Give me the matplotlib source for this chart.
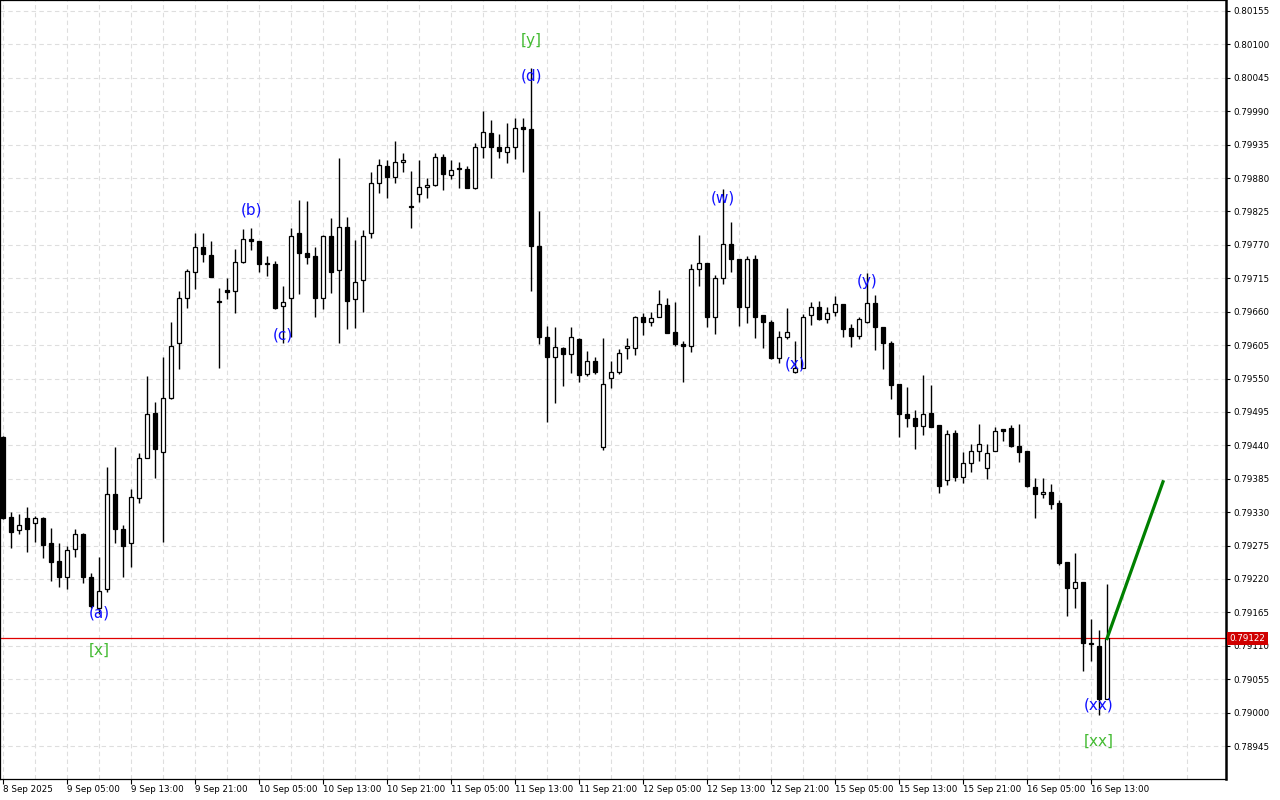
import matplotlib.pyplot as plt
import numpy as np

# hourly candles, 8 Sep 21:00 .. 16 Sep
OPEN = [0.79454, 0.79322, 0.79301, 0.79320, 0.79312, 0.79320, 0.79279, 0.79250, 0.79223, 0.79269,
        0.79294, 0.79223, 0.79172, 0.79203, 0.79360, 0.79302, 0.79279, 0.79353, 0.79419, 0.79493,
        0.79429, 0.79518, 0.79608, 0.79683, 0.79725, 0.79766, 0.79753, 0.79678, 0.79696, 0.79694,
        0.79742, 0.79780, 0.79776, 0.79740, 0.79739, 0.79669, 0.79683, 0.79790, 0.79757, 0.79752,
        0.79683, 0.79785, 0.79729, 0.79799, 0.79681, 0.79712, 0.79790, 0.79872, 0.79900, 0.79882,
        0.79906, 0.79834, 0.79854, 0.79865, 0.79869, 0.79915, 0.79885, 0.79897, 0.79895, 0.79864,
        0.79931, 0.79954, 0.79931, 0.79923, 0.79931, 0.79964, 0.79961, 0.79768, 0.79618, 0.79585,
        0.79600, 0.79590, 0.79615, 0.79557, 0.79579, 0.79437, 0.79551, 0.79561, 0.79600, 0.79600,
        0.79651, 0.79643, 0.79651, 0.79671, 0.79627, 0.79607, 0.79604, 0.79730, 0.79740, 0.79651,
        0.79715, 0.79771, 0.79747, 0.79668, 0.79747, 0.79655, 0.79643, 0.79584, 0.79618, 0.79561,
        0.79567, 0.79655, 0.79668, 0.79648, 0.79659, 0.79673, 0.79633, 0.79620, 0.79643, 0.79674,
        0.79635, 0.79608, 0.79541, 0.79492, 0.79485, 0.79472, 0.79493, 0.79473, 0.79383, 0.79460,
        0.79388, 0.79411, 0.79431, 0.79403, 0.79431, 0.79467, 0.79469, 0.79439, 0.79431, 0.79371,
        0.79360, 0.79363, 0.79345, 0.79248, 0.79205, 0.79215, 0.79115, 0.79110, 0.79022]
HIGH = [0.79455, 0.79330, 0.79327, 0.79338, 0.79324, 0.79322, 0.79304, 0.79279, 0.79274, 0.79302,
        0.79296, 0.79230, 0.79256, 0.79404, 0.79437, 0.79309, 0.79368, 0.79427, 0.79554, 0.79511,
        0.79585, 0.79643, 0.79694, 0.79730, 0.79790, 0.79790, 0.79776, 0.79699, 0.79715, 0.79763,
        0.79796, 0.79798, 0.79776, 0.79752, 0.79743, 0.79702, 0.79798, 0.79844, 0.79842, 0.79766,
        0.79786, 0.79814, 0.79913, 0.79816, 0.79778, 0.79794, 0.79890, 0.79911, 0.79910, 0.79941,
        0.79921, 0.79892, 0.79910, 0.79880, 0.79921, 0.79920, 0.79910, 0.79906, 0.79900, 0.79938,
        0.79990, 0.79976, 0.79953, 0.79971, 0.79979, 0.79979, 0.80061, 0.79826, 0.79636, 0.79635,
        0.79602, 0.79635, 0.79617, 0.79595, 0.79585, 0.79617, 0.79579, 0.79599, 0.79617, 0.79653,
        0.79658, 0.79659, 0.79696, 0.79683, 0.79676, 0.79612, 0.79739, 0.79786, 0.79740, 0.79720,
        0.79862, 0.79808, 0.79747, 0.79752, 0.79753, 0.79655, 0.79646, 0.79628, 0.79666, 0.79612,
        0.79656, 0.79676, 0.79678, 0.79668, 0.79686, 0.79673, 0.79640, 0.79651, 0.79724, 0.79687,
        0.79635, 0.79612, 0.79541, 0.79536, 0.79498, 0.79556, 0.79539, 0.79473, 0.79465, 0.79465,
        0.79429, 0.79442, 0.79475, 0.79442, 0.79470, 0.79467, 0.79473, 0.79475, 0.79431, 0.79386,
        0.79386, 0.79376, 0.79350, 0.79248, 0.79263, 0.79215, 0.79154, 0.79136, 0.79212]
LOW = [0.79319, 0.79271, 0.79294, 0.79264, 0.79281, 0.79255, 0.79217, 0.79207, 0.79203, 0.79256,
       0.79213, 0.79172, 0.79162, 0.79199, 0.79279, 0.79223, 0.79240, 0.79345, 0.79419, 0.79386,
       0.79281, 0.79516, 0.79566, 0.79666, 0.79697, 0.79742, 0.79717, 0.79567, 0.79681, 0.79658,
       0.79740, 0.79762, 0.79725, 0.79719, 0.79664, 0.79608, 0.79618, 0.79689, 0.79739, 0.79651,
       0.79664, 0.79691, 0.79608, 0.79632, 0.79633, 0.79659, 0.79781, 0.79855, 0.79847, 0.79872,
       0.79890, 0.79798, 0.79841, 0.79847, 0.79867, 0.79860, 0.79878, 0.79864, 0.79864, 0.79862,
       0.79913, 0.79880, 0.79913, 0.79905, 0.79911, 0.79890, 0.79694, 0.79607, 0.79478, 0.79510,
       0.79538, 0.79559, 0.79544, 0.79554, 0.79557, 0.79432, 0.79534, 0.79557, 0.79582, 0.79589,
       0.79622, 0.79636, 0.79651, 0.79625, 0.79604, 0.79544, 0.79594, 0.79702, 0.79635, 0.79623,
       0.79706, 0.79725, 0.79636, 0.79641, 0.79617, 0.79600, 0.79582, 0.79576, 0.79615, 0.79559,
       0.79567, 0.79638, 0.79646, 0.79641, 0.79653, 0.79618, 0.79602, 0.79615, 0.79641, 0.79597,
       0.79566, 0.79516, 0.79454, 0.79470, 0.79434, 0.79457, 0.79470, 0.79362, 0.79375, 0.79381,
       0.79378, 0.79396, 0.79414, 0.79385, 0.79431, 0.79447, 0.79437, 0.79413, 0.79371, 0.79320,
       0.79353, 0.79335, 0.79243, 0.79159, 0.79172, 0.79069, 0.79085, 0.78996, 0.79022]
CLOSE = [0.79320, 0.79297, 0.79309, 0.79302, 0.79320, 0.79276, 0.79248, 0.79223, 0.79268, 0.79294,
         0.79223, 0.79176, 0.79200, 0.79360, 0.79302, 0.79274, 0.79355, 0.79419, 0.79492, 0.79434,
         0.79518, 0.79604, 0.79683, 0.79727, 0.79766, 0.79755, 0.79717, 0.79676, 0.79692, 0.79742,
         0.79780, 0.79776, 0.79739, 0.79739, 0.79666, 0.79676, 0.79785, 0.79757, 0.79750, 0.79683,
         0.79785, 0.79725, 0.79799, 0.79678, 0.79709, 0.79785, 0.79872, 0.79901, 0.79882, 0.79906,
         0.79910, 0.79832, 0.79865, 0.79869, 0.79915, 0.79887, 0.79893, 0.79895, 0.79864, 0.79931,
         0.79956, 0.79931, 0.79925, 0.79931, 0.79962, 0.79961, 0.79768, 0.79618, 0.79585, 0.79602,
         0.79590, 0.79618, 0.79556, 0.79579, 0.79561, 0.79541, 0.79561, 0.79592, 0.79604, 0.79651,
         0.79643, 0.79650, 0.79673, 0.79625, 0.79607, 0.79604, 0.79730, 0.79740, 0.79651, 0.79715,
         0.79771, 0.79747, 0.79668, 0.79747, 0.79651, 0.79643, 0.79584, 0.79618, 0.79627, 0.79567,
         0.79651, 0.79668, 0.79648, 0.79658, 0.79673, 0.79632, 0.79620, 0.79648, 0.79674, 0.79635,
         0.79608, 0.79539, 0.79492, 0.79485, 0.79472, 0.79492, 0.79470, 0.79373, 0.79459, 0.79388,
         0.79411, 0.79431, 0.79442, 0.79427, 0.79464, 0.79464, 0.79439, 0.79429, 0.79373, 0.79360,
         0.79363, 0.79343, 0.79246, 0.79205, 0.79215, 0.79115, 0.79113, 0.79022, 0.79122]

TIME_LABELS = ["8 Sep 2025", "9 Sep 05:00", "9 Sep 13:00", "9 Sep 21:00", "10 Sep 05:00",
               "10 Sep 13:00", "10 Sep 21:00", "11 Sep 05:00", "11 Sep 13:00", "11 Sep 21:00",
               "12 Sep 05:00", "12 Sep 13:00", "12 Sep 21:00", "15 Sep 05:00", "15 Sep 13:00",
               "15 Sep 21:00", "16 Sep 05:00", "16 Sep 13:00"]
PRICE_TICKS = [0.78945, 0.79000, 0.79055, 0.79110, 0.79165, 0.79220, 0.79275, 0.79330,
               0.79385, 0.79440, 0.79495, 0.79550, 0.79605, 0.79660, 0.79715, 0.79770,
               0.79825, 0.79880, 0.79935, 0.79990, 0.80045, 0.80100, 0.80155]

WAVE_TEXT = ["[y]", "(d)", "(b)", "(c)", "(a)", "[x]", "(w)", "(x)", "(y)", "(xx)", "[xx]"]
WAVE_BAR = [66, 66, 31, 35, 12, 12, 90, 99, 108, 137, 137]
WAVE_PRICE = [0.80107, 0.80048, 0.79827, 0.79622, 0.79164, 0.79103,
              0.79847, 0.79574, 0.79709, 0.79013, 0.78952]

PROJ_BAR = [138, 145]
PROJ_PRICE = [0.79122, 0.79380]
LAST_PRICE = 0.79122


def main():
    fig = plt.figure(figsize=(12.8, 8), dpi=100)
    ax = fig.add_axes([0, 21 / 800, 1226 / 1280, 779 / 800])

    n = len(OPEN)
    x = np.arange(n)
    o = np.array(OPEN)
    c = np.array(CLOSE)
    bull = c >= o

    ax.vlines(x, LOW, HIGH, color="black", lw=1.0, zorder=3)
    bottom = np.minimum(o, c)
    height = np.abs(c - o)
    ax.bar(x[bull], height[bull], bottom=bottom[bull], width=0.62,
           color="white", edgecolor="black", linewidth=0.9, zorder=4)
    ax.bar(x[~bull], height[~bull], bottom=bottom[~bull], width=0.62,
           color="black", edgecolor="black", linewidth=0.9, zorder=4)

    # current price line and projection
    ax.axhline(LAST_PRICE, color="#e00000", lw=0.9, zorder=2)
    ax.plot(PROJ_BAR, PROJ_PRICE, color="#008000", lw=2.3, zorder=5)

    for txt, b, p in zip(WAVE_TEXT, WAVE_BAR, WAVE_PRICE):
        col = "#44bb33" if txt.startswith("[") else "#1010ff"
        ax.text(b, p, txt, color=col, fontsize=11, ha="center", va="center", zorder=6)

    ax.set_xlim(-0.375, 152.875)
    ax.set_ylim(0.788907, 0.801731)

    ax.set_xticks(np.arange(0, 8 * len(TIME_LABELS), 8))
    ax.set_xticklabels(TIME_LABELS)
    ax.set_xticks(np.arange(4, 152, 8), minor=True)
    for lab in ax.get_xticklabels():
        lab.set_horizontalalignment("left")
    ax.tick_params(axis="x", which="major", direction="out", length=3.6, width=0.8,
                   pad=0.8, labelsize=6.3)
    ax.tick_params(axis="x", which="minor", length=0)

    ax.yaxis.tick_right()
    ax.set_yticks(PRICE_TICKS)
    ax.set_yticklabels([f"{v:.5f}" for v in PRICE_TICKS])
    ax.tick_params(axis="y", direction="out", length=3, width=0.8, pad=2, labelsize=6.3)

    ax.grid(True, which="major", axis="y", color="#dedede", ls=(0, (4, 3)), lw=0.8)
    ax.grid(True, which="both", axis="x", color="#dedede", ls=(0, (4, 3)), lw=0.8)
    ax.set_axisbelow(True)

    for side in ["left", "top", "bottom"]:
        ax.spines[side].set_linewidth(0.9)
    ax.spines["right"].set_linewidth(1.8)

    ax.text(1.003, LAST_PRICE, f"{LAST_PRICE:.5f}", transform=ax.get_yaxis_transform(),
            color="white", fontsize=6.3, ha="left", va="center", zorder=10,
            bbox=dict(boxstyle="square,pad=0.25", fc="#d00000", ec="none"), clip_on=False)

    fig.savefig("out.png", dpi=100, facecolor="white")
    plt.close(fig)


if __name__ == "__main__":
    main()
